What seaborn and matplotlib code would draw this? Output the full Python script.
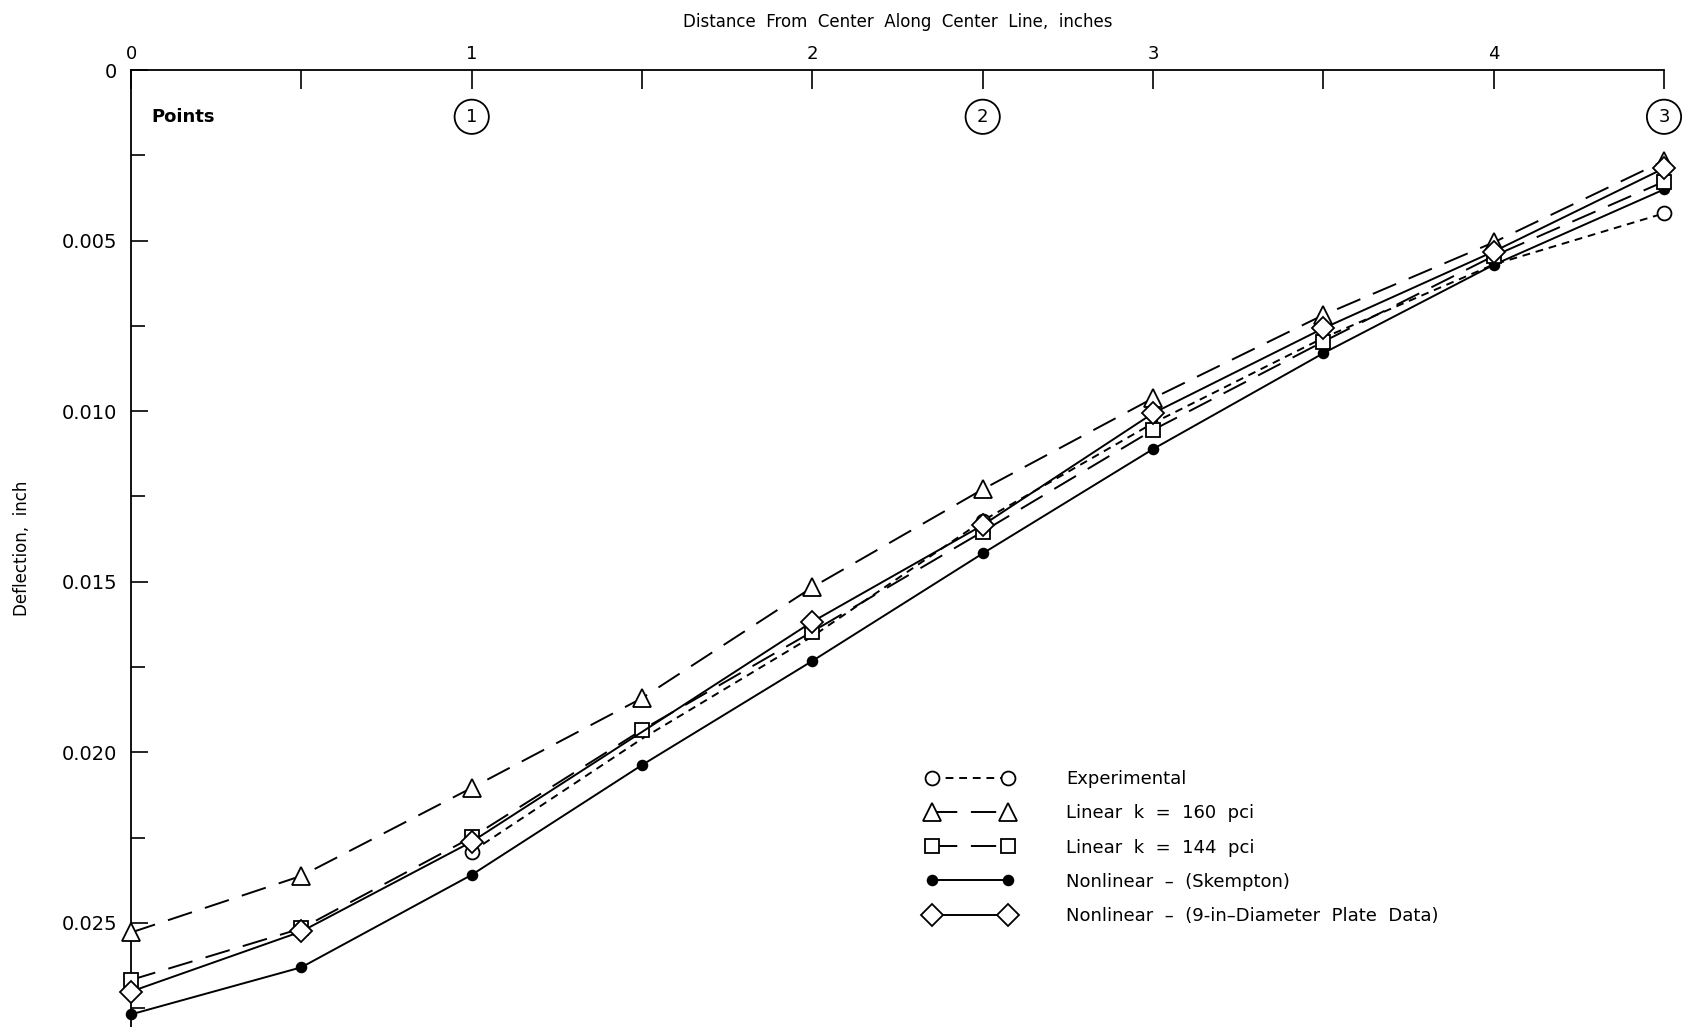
import matplotlib
matplotlib.use("Agg")
import matplotlib.pyplot as plt
import seaborn as sns
import pandas as pd

sns.set_theme(style="white")
plt.rcParams["font.family"] = ["DejaVu Sans"]

# Distance from center along center line (inches)
distance = [0.0, 0.5, 1.0, 1.5, 2.0, 2.5, 3.0, 3.5, 4.0, 4.5]

# Deflections (inch)
linear_160 = [0.02528, 0.02362, 0.02104, 0.01841, 0.01516, 0.01229, 0.00962, 0.00718, 0.00505, 0.00266]
linear_144 = [0.02667, 0.02516, 0.02249, 0.01934, 0.01646, 0.01353, 0.01055, 0.00796, 0.00545, 0.00327]
skempton = [0.02768, 0.02630, 0.02359, 0.02037, 0.01732, 0.01417, 0.01111, 0.00830, 0.00571, 0.00350]
plate_data = [0.02701, 0.02525, 0.02262, 0.01940, 0.01617, 0.01334, 0.01006, 0.00757, 0.00532, 0.00288]

# Experimental curve, measured at points 1, 2 and 3
exp_distance = [1.0, 1.5, 2.0, 2.5, 3.0, 3.5, 4.0, 4.5]
experimental = [0.02291, 0.01960, 0.01660, 0.01321, 0.01035, 0.00785, 0.00570, 0.00420]
exp_measured = [0, 3, 7]

labels = [
    "Experimental",
    "Linear  k  =  160  pci",
    "Linear  k  =  144  pci",
    "Nonlinear  \u2013  (Skempton)",
    "Nonlinear  \u2013  (9-in\u2013Diameter  Plate  Data)",
]

point_x = [1.0, 2.5, 4.5]
point_names = ["1", "2", "3"]

y_ticks = [0.0, 0.005, 0.010, 0.015, 0.020, 0.025]
y_ticklabels = ["0", "0.005", "0.010", "0.015", "0.020", "0.025"]
x_ticks = [0, 1, 2, 3, 4]

fig = plt.figure(figsize=(16.89, 10.27), dpi=100)
ax = fig.add_axes([0.0776, 0.0, 0.9076, 0.9318])

common = dict(color="black", lw=1.4, clip_on=False, mec="black", mew=1.3,
              errorbar=None, sort=False, ax=ax)

df_exp = pd.DataFrame({"x": exp_distance, "y": experimental})
sns.lineplot(data=df_exp, x="x", y="y", marker="o", ms=10, mfc="white",
             linestyle=(0, (4, 3)), markevery=exp_measured, zorder=3, **common)

df160 = pd.DataFrame({"x": distance, "y": linear_160})
sns.lineplot(data=df160, x="x", y="y", marker="^", ms=13, mfc="white",
             linestyle=(0, (13, 7)), zorder=3, **common)

df144 = pd.DataFrame({"x": distance, "y": linear_144})
sns.lineplot(data=df144, x="x", y="y", marker="s", ms=10, mfc="white",
             linestyle=(0, (13, 7)), zorder=4, **common)

dfsk = pd.DataFrame({"x": distance, "y": skempton})
sns.lineplot(data=dfsk, x="x", y="y", marker="o", ms=7, mfc="black",
             linestyle="-", zorder=3, **common)

dfpl = pd.DataFrame({"x": distance, "y": plate_data})
sns.lineplot(data=dfpl, x="x", y="y", marker="D", ms=11, mfc="white",
             linestyle="-", markevery=[0, 1, 2, 4, 5, 6, 7, 8, 9], zorder=5, **common)

ax.set_xlim(0, 4.5)
ax.set_ylim(0.02805, 0)

ax.xaxis.tick_top()
ax.xaxis.set_label_position("top")
ax.set_xticks([0.5, 1.5, 2.5, 3.5, 4.5], minor=True)
ax.set_xticks(x_ticks)
ax.set_xticklabels([str(v) for v in x_ticks])
ax.set_yticks(y_ticks)
ax.set_yticklabels(y_ticklabels)
ax.set_yticks([0.0025, 0.0075, 0.0125, 0.0175, 0.0225, 0.0275], minor=True)

ax.tick_params(axis="x", which="both", direction="in", length=14, width=1.2,
               colors="black", labelsize=13, pad=5, top=True, bottom=False)
ax.tick_params(axis="y", which="major", direction="in", length=12, width=1.2,
               colors="black", labelsize=14, pad=10, left=True)
ax.tick_params(axis="y", which="minor", direction="in", length=10, width=1.2,
               colors="black", left=True)

for side in ["right", "bottom"]:
    ax.spines[side].set_visible(False)
for side in ["left", "top"]:
    ax.spines[side].set_color("black")
    ax.spines[side].set_linewidth(1.3)

ax.set_xlabel("Distance  From  Center  Along  Center  Line,  inches",
              fontsize=12, labelpad=13, color="black")
ax.set_ylabel("Deflection,  inch", fontsize=12, labelpad=22, color="black")
ax.grid(False)

ax.text(0.06, 0.00137, "Points", fontsize=13, fontweight="semibold",
        ha="left", va="center", color="black")
for px, name in zip(point_x, point_names):
    ax.text(px, 0.00137, name, fontsize=13, ha="center", va="center",
            color="black", clip_on=False,
            bbox=dict(boxstyle="circle,pad=0.45", fc="white", ec="black", lw=1.3))

handles = ax.get_lines()[:5]
leg = ax.legend(handles, labels, loc="upper left",
                bbox_to_anchor=(0.5435, 0.259), bbox_transform=fig.transFigure,
                frameon=False, numpoints=2, handlelength=4.8, handletextpad=2.9,
                labelspacing=0.9, borderpad=0, fontsize=13)
for t in leg.get_texts():
    t.set_color("black")

fig.savefig("out.png", dpi=100, facecolor="white")
